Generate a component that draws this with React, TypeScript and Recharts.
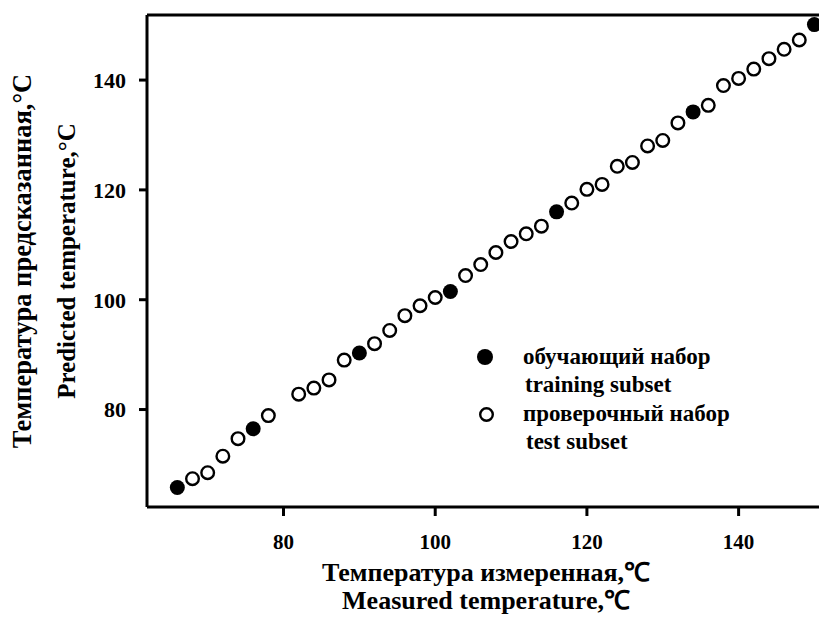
import React from 'react';
import { ScatterChart, Scatter, XAxis, YAxis, ReferenceLine, Legend } from 'recharts';

const FONT = 'Liberation Serif';

// training subset (filled)
const trainX = [66, 76, 90, 102, 116, 134, 150];
const trainY = [65.8, 76.5, 90.3, 101.5, 116.0, 134.2, 150.1];

// test subset (open)
const testX = [68, 70, 72, 74, 78, 82, 84, 86, 88, 92, 94, 96, 98, 100, 104, 106, 108, 110, 112, 114, 118, 120, 122, 124, 126, 128, 130, 132, 136, 138, 140, 142, 144, 146, 148];
const testY = [67.4, 68.5, 71.5, 74.7, 78.9, 82.8, 83.9, 85.4, 89.0, 92.0, 94.4, 97.1, 98.9, 100.4, 104.4, 106.4, 108.6, 110.6, 112.0, 113.4, 117.6, 120.1, 121.0, 124.3, 125.0, 128.0, 129.0, 132.2, 135.4, 139.0, 140.3, 142.0, 143.9, 145.6, 147.3];

const xTicks = [80, 100, 120, 140];
const yTicks = [80, 100, 120, 140];

const xTitle = ['Температура измеренная,℃', 'Measured temperature,℃'];
const yTitle = ['Температура предсказанная,°C', 'Predicted temperature,°C'];
const legendLabels = ['обучающий набор', 'training subset', 'проверочный набор', 'test subset'];

const trainData = trainX.map((x, i) => ({ x, y: trainY[i] }));
const testData = testX.map((x, i) => ({ x, y: testY[i] }));

const FilledDot = (props: any) => <circle cx={props.cx} cy={props.cy} r={7.5} fill="#000" />;
const OpenDot = (props: any) => (
  <circle cx={props.cx} cy={props.cy} r={6.3} fill="#fff" stroke="#000" strokeWidth={2.4} />
);

const XTitle = (props: any) => {
  const { viewBox } = props;
  const cx = viewBox.x + 339;
  return (
    <g style={{ fontFamily: FONT }} fontWeight="bold" fontSize={26} fill="#000">
      <text x={cx} y={viewBox.y + 74} textAnchor="middle">{xTitle[0]}</text>
      <text x={cx} y={viewBox.y + 102} textAnchor="middle">{xTitle[1]}</text>
    </g>
  );
};

const YTitle = (props: any) => {
  const { viewBox } = props;
  const cy = viewBox.y + viewBox.height / 2;
  const x1 = viewBox.x - 56;
  const x2 = viewBox.x - 12;
  return (
    <g style={{ fontFamily: FONT }} fontWeight="bold" fill="#000">
      <text x={x1} y={cy} fontSize={26.5} textAnchor="middle" transform={`rotate(-90, ${x1}, ${cy})`}>{yTitle[0]}</text>
      <text x={x2} y={cy} fontSize={25} textAnchor="middle" transform={`rotate(-90, ${x2}, ${cy})`}>{yTitle[1]}</text>
    </g>
  );
};

const LegendBox = () => (
  <svg width={300} height={120} style={{ display: 'block', fontFamily: FONT }}>
    <g fontWeight="bold" fontSize={23} fill="#000">
      <circle cx={15} cy={17} r={8} fill="#000" />
      <text x={53} y={24}>{legendLabels[0]}</text>
      <text x={55} y={52}>{legendLabels[1]}</text>
      <circle cx={16.5} cy={74.5} r={6.3} fill="#fff" stroke="#000" strokeWidth={2.4} />
      <text x={53} y={81}>{legendLabels[2]}</text>
      <text x={56} y={109}>{legendLabels[3]}</text>
    </g>
  </svg>
);

const tickStyle = { fill: '#000', fontWeight: 'bold', fontFamily: FONT };

export default function App() {
  return (
    <div style={{ position: 'fixed', left: 0, top: 0, width: 819, height: 617, overflow: 'hidden', background: '#fff', fontFamily: FONT }}>
      <ScatterChart width={841} height={617} margin={{ top: 15, right: 0, bottom: 0, left: 87 }} style={{ fontFamily: FONT }}>
        <XAxis
          type="number"
          dataKey="x"
          domain={[62, 153.5]}
          ticks={xTicks}
          allowDataOverflow
          height={110}
          axisLine={{ stroke: '#000', strokeWidth: 3 }}
          tickLine={{ stroke: '#000', strokeWidth: 3 }}
          tickSize={9}
          tickMargin={18}
          tick={{ ...tickStyle, fontSize: 21 }}
          label={{ content: XTitle }}
        />
        <YAxis
          type="number"
          dataKey="y"
          domain={[62.25, 151.85]}
          ticks={yTicks}
          allowDataOverflow
          width={60}
          axisLine={{ stroke: '#000', strokeWidth: 3 }}
          tickLine={{ stroke: '#000', strokeWidth: 3 }}
          tickSize={8}
          tickMargin={13}
          tick={{ ...tickStyle, fontSize: 22 }}
          label={{ content: YTitle }}
        />
        <ReferenceLine y={151.85} stroke="#000" strokeWidth={3} />
        <Legend
          layout="vertical"
          align="center"
          verticalAlign="middle"
          content={LegendBox}
          wrapperStyle={{ position: 'absolute', left: 470, top: 340, width: 300, height: 120 }}
        />
        <Scatter name="test subset" data={testData} shape={OpenDot} isAnimationActive={false} />
        <Scatter name="training subset" data={trainData} shape={FilledDot} isAnimationActive={false} />
      </ScatterChart>
    </div>
  );
}
